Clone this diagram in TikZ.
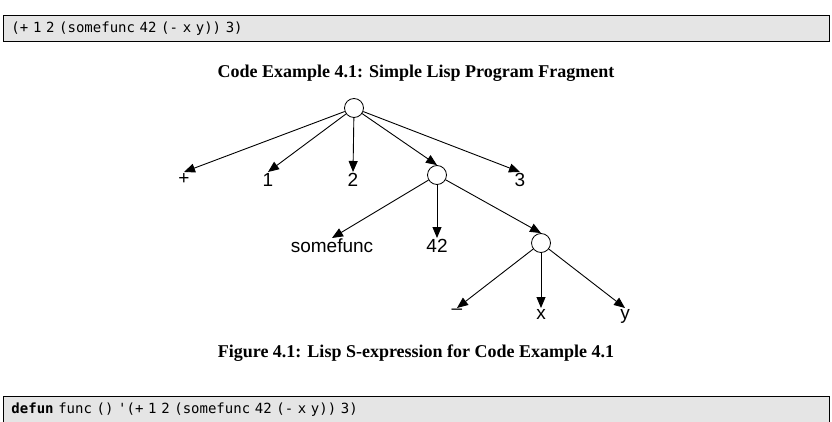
\documentclass[tikz,border=0pt]{standalone}
\usepackage{fontspec}
\setmainfont{Liberation Serif}
\setsansfont{Liberation Sans}
\setmonofont{DejaVu Sans Mono}
\usetikzlibrary{arrows.meta}

\tikzset{
  cons/.style={circle,draw,line width=0.8pt,minimum size=19pt,inner sep=0pt},
  atom/.style={font=\sffamily\fontsize{19}{19}\selectfont,inner sep=1pt,anchor=north},
  link/.style={-{Triangle[length=11pt,width=9pt]},line width=0.9pt},
  codebox/.style={draw,line width=1pt,fill=black!10,anchor=north west,minimum width=826pt,minimum height=26pt,text width=810pt,align=left,font=\ttfamily\fontsize{14}{14}\selectfont},
  caption/.style={font=\bfseries\fontsize{18}{18}\selectfont}
}

\begin{document}
\begin{tikzpicture}[x=1pt,y=-1pt]
\useasboundingbox (0,0) rectangle (832,422);

% listing boxes
\node[codebox] (code) at (3,15) {\obeyspaces(+ 1 2 (somefunc 42 (- x y)) 3)};
\node[caption] (cap1) at (416,73) {Code Example 4.1: Simple Lisp Program Fragment};

% tree
\node[cons] (root) at (354,108) {};
\node[atom] (plus) at (184,172) {+};
\node[atom] (one) at (268,172) {1};
\node[atom] (two) at (353,172) {2};
\node[cons] (sub) at (437,175) {};
\node[atom] (three) at (520,172) {3};

\node[atom] (fn) at (332,238) {somefunc};
\node[atom] (ftt) at (437,238) {42};
\node[cons] (inner) at (541,243) {};

\node[atom] (minus) at (457,308) {–};
\node[atom] (ex) at (541,308) {x};
\node[atom] (why) at (625,308) {y};

\foreach \a/\b in {root/plus,root/one,root/two,root/sub,root/three,
                   sub/fn,sub/ftt,sub/inner,
                   inner/minus,inner/ex,inner/why}
  \draw[link] (\a) -- (\b.north);

\node[caption] (cap2) at (416,353) {Figure 4.1: Lisp S-expression for Code Example 4.1};

\node[codebox] (code2) at (3,396) {\textbf{defun} func () '(+ 1 2 (somefunc 42 (- x y)) 3)};
\end{tikzpicture}
\end{document}
